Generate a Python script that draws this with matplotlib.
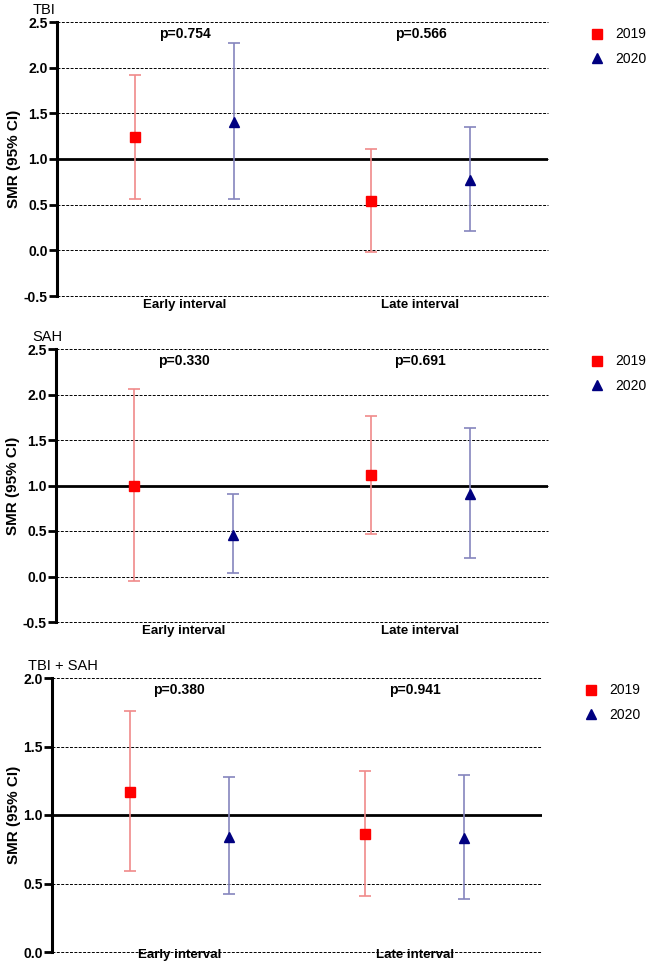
import numpy as np
import matplotlib
matplotlib.use("Agg")
import matplotlib.pyplot as plt
from matplotlib.lines import Line2D

plt.rcParams['font.family'] = ['Liberation Sans', 'DejaVu Sans']

# datos
categorias = ["Early interval", "Late interval"]
anios = ["2019", "2020"]
titulos = ["TBI", "SAH", "TBI + SAH"]

tbi_2019 = [1.24, 0.54]
tbi_2019_lo = [0.56, -0.02]
tbi_2019_hi = [1.92, 1.11]
tbi_2020 = [1.41, 0.77]
tbi_2020_lo = [0.56, 0.21]
tbi_2020_hi = [2.27, 1.35]
tbi_p = ["p=0.754", "p=0.566"]

sah_2019 = [1.00, 1.11]
sah_2019_lo = [-0.05, 0.47]
sah_2019_hi = [2.06, 1.76]
sah_2020 = [0.46, 0.91]
sah_2020_lo = [0.04, 0.20]
sah_2020_hi = [0.91, 1.63]
sah_p = ["p=0.330", "p=0.691"]

tot_2019 = [1.17, 0.86]
tot_2019_lo = [0.59, 0.41]
tot_2019_hi = [1.76, 1.32]
tot_2020 = [0.84, 0.83]
tot_2020_lo = [0.42, 0.39]
tot_2020_hi = [1.28, 1.29]
tot_p = ["p=0.380", "p=0.941"]

paneles = [
    (tbi_2019, tbi_2019_lo, tbi_2019_hi, tbi_2020, tbi_2020_lo, tbi_2020_hi, tbi_p, (-0.5, 2.5), np.arange(-0.5, 2.51, 0.5)),
    (sah_2019, sah_2019_lo, sah_2019_hi, sah_2020, sah_2020_lo, sah_2020_hi, sah_p, (-0.5, 2.5), np.arange(-0.5, 2.51, 0.5)),
    (tot_2019, tot_2019_lo, tot_2019_hi, tot_2020, tot_2020_lo, tot_2020_hi, tot_p, (0.0, 2.0), np.arange(0.0, 2.01, 0.5)),
]

# posiciones en pixeles (izq, der, arriba, abajo) y separacion de etiquetas x
cajas = [(57, 548, 22, 296), (56, 548, 349, 622), (52, 542, 678, 952)]
pads = [2.5, 2.5, -2.5]

W, H = 649, 965
fig = plt.figure(figsize=(W / 100, H / 100), dpi=100)

col_19 = "#ff0000"
col_20 = "#000080"
err_19 = "#f08a8a"
err_20 = "#8585bd"

x = np.arange(len(categorias))
off = 0.21

for i, (v19, lo19, hi19, v20, lo20, hi20, pv, ylim, yt) in enumerate(paneles):
    l, r, t, b = cajas[i]
    ax = fig.add_axes([l / W, 1 - b / H, (r - l) / W, (b - t) / H])
    v19 = np.array(v19); v20 = np.array(v20)
    e19 = [v19 - np.array(lo19), np.array(hi19) - v19]
    e20 = [v20 - np.array(lo20), np.array(hi20) - v20]

    for yv in yt:
        ax.axhline(yv, color="black", lw=0.7, ls=(0, (3, 1.5)), zorder=1, clip_on=False)
    ax.axhline(1.0, color="black", lw=2.0, zorder=2)

    ax.errorbar(x - off, v19, yerr=e19, fmt="none", ecolor=err_19, elinewidth=1.2,
                capsize=4.5, capthick=1.2, zorder=3)
    ax.errorbar(x + off, v20, yerr=e20, fmt="none", ecolor=err_20, elinewidth=1.2,
                capsize=4.5, capthick=1.2, zorder=3)
    ax.plot(x - off, v19, "s", color=col_19, ms=7, zorder=4)
    ax.plot(x + off, v20, "^", color=col_20, ms=7, zorder=4)

    ax.set_xlim(-0.54, 1.54)
    ax.set_ylim(*ylim)
    ax.set_yticks(yt)
    ax.set_yticklabels([f"{v:.1f}" for v in yt], fontweight="bold", fontsize=10)
    ax.set_xticks(x)
    ax.set_xticklabels(categorias, fontweight="bold", fontsize=9.5)
    ax.tick_params(axis="x", length=0, pad=pads[i])
    ax.tick_params(axis="y", width=2, length=6, pad=0.5)

    for s in ["top", "right", "bottom"]:
        ax.spines[s].set_visible(False)
    ax.spines["left"].set_linewidth(2.2)

    ax.set_ylabel("SMR (95% CI)", fontweight="bold", fontsize=11, labelpad=2)

    for j in range(len(categorias)):
        ax.text(x[j], ylim[1] - (ylim[1] - ylim[0]) * 0.045, pv[j], ha="center", va="center",
                fontweight="bold", fontsize=10)

    ax.text(-0.049, 1.02, titulos[i], transform=ax.transAxes, fontsize=10.5, ha="left", va="bottom")

    handles = [Line2D([], [], marker="s", ls="none", color=col_19, ms=7),
               Line2D([], [], marker="^", ls="none", color=col_20, ms=7)]
    ax.legend(handles, anios, loc="upper left", bbox_to_anchor=(1.057, 1.026), frameon=False,
              fontsize=10, handletextpad=0.7, labelspacing=0.75, handlelength=1.2)

fig.savefig("out.png", dpi=100)
